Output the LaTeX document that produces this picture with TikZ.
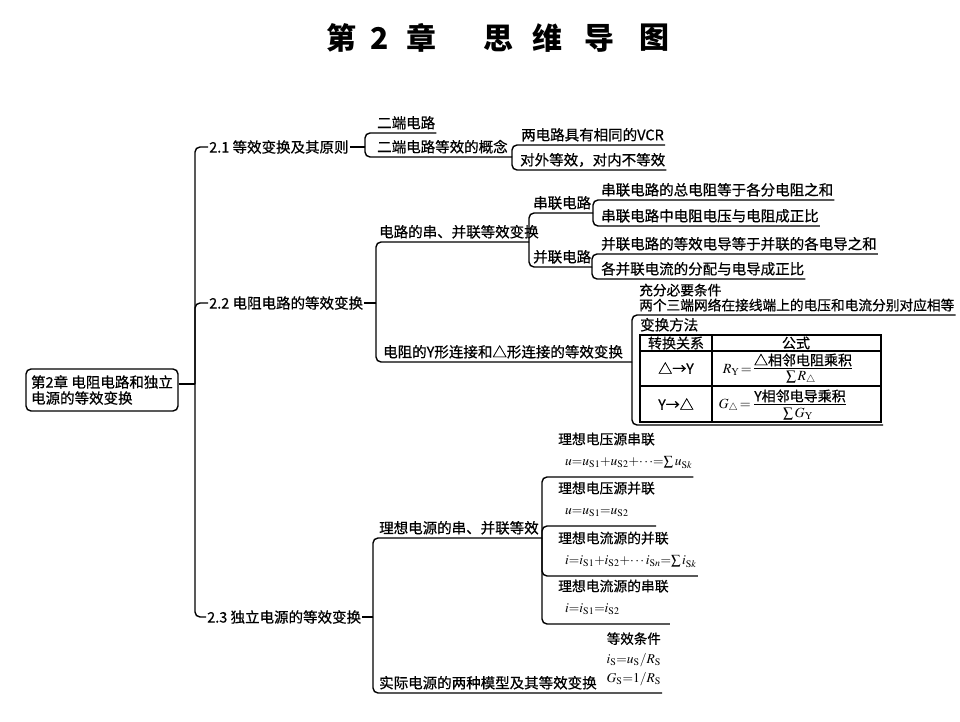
\documentclass[tikz,border=0pt]{standalone}
\usepackage{amsmath}
\usepackage{mathptmx}
\usepackage{fontspec}
\setmainfont{Noto Sans CJK SC}[UprightFeatures={FakeBold=0.6}]
\usepackage{tikz}
\newcommand{\eqtext}[1]{{\fontsize{13.5}{15}\selectfont\thickmuskip=0mu\medmuskip=0mu$#1$}}

\begin{document}
\begin{tikzpicture}[x=1pt, y=-1pt,
  link/.style={draw=black, line width=1.4pt, rounded corners=5pt},
  titlechar/.style={font=\fontsize{30}{32}\selectfont\bfseries, inner sep=0pt},
  rootbox/.style={draw, line width=1.4pt, rounded corners=5pt, align=left, minimum width=152pt, minimum height=42pt, inner xsep=4pt, inner ysep=4pt, font=\fontsize{14.5}{16}\selectfont},
  topic/.style={anchor=west, inner xsep=1pt, inner ysep=2pt, font=\fontsize{14.5}{17}\selectfont},
  leaf/.style={anchor=south west, inner xsep=1pt, inner ysep=4.5pt, text depth=0pt, align=left, font=\fontsize{14.5}{17}\selectfont},
  source/.style={leaf, inner ysep=11pt, font=\fontsize{13.8}{21.5}\selectfont},
  cond/.style={anchor=south east, align=right, inner xsep=1pt, inner ysep=10pt, text depth=0pt, font=\fontsize{13.5}{19.5}\selectfont},
  cell/.style={inner sep=0pt, font=\fontsize{14}{16}\selectfont},
  grid/.style={draw=black, line width=1.2pt},
  fracbar/.style={draw=black, line width=1pt}
]
  \useasboundingbox (0,0) rectangle (960,722);

  % Title
  \foreach \ch/\xx [count=\i] in {第/341, 2/380, 章/421, 思/498, 维/547, 导/599, 图/654}
    \node[titlechar] (t\i) at (\xx,38) {\ch};

  % Root and trunk
  \node[rootbox] (root) at (102,390) {第2章 电阻电路和独立\\电源的等效变换};
  \coordinate (trunk) at (195,384);
  \draw[link] (root.east |- trunk) -- (trunk);

  \node[topic] (s21) at (208,147) {2.1 等效变换及其原则};
  \node[topic] (s22) at (208,303) {2.2 电阻电路的等效变换};
  \node[topic] (s23) at (206,617) {2.3 独立电源的等效变换};
  \draw[link] (trunk) |- (s21.west);
  \draw[link] (trunk) |- (s22.west);
  \draw[link] (trunk) |- (s23.west);

  \coordinate (j21) at (365,147);
  \coordinate (j22) at (376,303);
  \coordinate (j23) at (373,617);
  \draw[link] (s21.east) -- (j21);
  \draw[link] (s22.east) -- (j22);
  \draw[link] (s23.east) -- (j23);

  % 2.1
  \node[leaf] (a1) at (376,133) {二端电路};
  \node[leaf] (a2) at (376,157) {二端电路等效的概念};
  \coordinate (ja2) at (512,157);
  \draw[link] (j21) |- (a1.south east);
  \draw[link] (j21) |- (ja2);

  \node[leaf] (b1) at (520,145) {两电路具有相同的VCR};
  \node[leaf] (b2) at (519,170) {对外等效，对内不等效};
  \draw[link] (ja2) |- (b1.south east);
  \draw[link] (ja2) |- (b2.south east);

  % 2.2
  \node[leaf] (c1) at (378,242) {电路的串、并联等效变换};
  \node[leaf] (c2) at (382,362) {电阻的Y形连接和△形连接的等效变换};
  \coordinate (jc1) at (529,242);
  \coordinate (jc2) at (632,362);
  \draw[link] (j22) |- (jc1);
  \draw[link] (j22) |- (jc2);

  \node[leaf] (d1) at (532,213) {串联电路};
  \node[leaf] (d2) at (532,267) {并联电路};
  \coordinate (jd1) at (593,213);
  \coordinate (jd2) at (592,267);
  \draw[link] (jc1) |- (jd1);
  \draw[link] (jc1) |- (jd2);

  \node[leaf] (e1) at (600,200) {串联电路的总电阻等于各分电阻之和};
  \node[leaf] (e2) at (600,226) {串联电路中电阻电压与电阻成正比};
  \node[leaf] (e3) at (600,254) {并联电路的等效电导等于并联的各电导之和};
  \node[leaf] (e4) at (600,279) {各并联电流的分配与电导成正比};
  \draw[link] (jd1) |- (e1.south east);
  \draw[link] (jd1) |- (e2.south east);
  \draw[link] (jd2) |- (e3.south east);
  \draw[link] (jd2) |- (e4.south east);

  \node[leaf, font=\fontsize{13.7}{15}\selectfont] (f1) at (638,315) {充分必要条件\\两个三端网络在接线端上的电压和电流分别对应相等};
  \node[leaf] (f2) at (639,335) {变换方法};
  \coordinate (f3) at (883,425);
  \draw[link] (jc2) |- (f1.south east);
  \draw[link] (jc2) |- (f3);

  % Table
  \draw[grid] (640,335) rectangle (881,422);
  \draw[grid] (640,351) -- (881,351);
  \draw[grid] (640,386) -- (881,386);
  \draw[grid] (712,335) -- (712,422);
  \node[cell] (k1) at (676,343) {转换关系};
  \node[cell] (k2) at (796,343) {公式};
  \node[cell] (k3) at (676,368) {△→Y};
  \node[cell] (k5) at (676,404) {Y→△};

  \node[cell, anchor=east] (k4) at (752,370) {$R_{\mathrm{Y}}\!=$};
  \node[cell, inner ysep=1.5pt] (k4n) at (803,360) {△相邻电阻乘积};
  \node[cell] (k4d) at (801,378) {$\sum R_{\triangle}$};
  \draw[fracbar] (k4n.south west) -- (k4n.south east);

  \node[cell, anchor=east] (k6) at (751,406) {$G_{\triangle}\!=$};
  \node[cell, inner ysep=1.5pt] (k6n) at (800,396) {Y相邻电导乘积};
  \node[cell] (k6d) at (798,414) {$\sum G_{\mathrm{Y}}$};
  \draw[fracbar] (k6n.south west) -- (k6n.south east);

  % 2.3
  \node[leaf] (g1) at (378,538) {理想电源的串、并联等效};
  \node[leaf] (g2) at (378,693) {实际电源的两种模型及其等效变换};
  \node[cond] (g3) at (662,693) {等效条件\\\eqtext{i_{\mathrm{S}}=u_{\mathrm{S}}/R_{\mathrm{S}}}\\\eqtext{G_{\mathrm{S}}=1/R_{\mathrm{S}}}};
  \coordinate (jg1) at (542,538);
  \draw[link] (j23) |- (jg1);
  \draw[link] (j23) |- (g3.south east);

  \node[source] (h1) at (557,477) {理想电压源串联\\\hspace*{7pt}\eqtext{u=u_{\mathrm{S}1}+u_{\mathrm{S}2}+\cdots=\sum u_{\mathrm{S}k}}};
  \node[source] (h2) at (557,526) {理想电压源并联\\\hspace*{7pt}\eqtext{u=u_{\mathrm{S}1}=u_{\mathrm{S}2}}};
  \node[source] (h3) at (557,576) {理想电流源的并联\\\hspace*{7pt}\eqtext{i=i_{\mathrm{S}1}+i_{\mathrm{S}2}+\cdots i_{\mathrm{S}n}=\sum i_{\mathrm{S}k}}};
  \node[source] (h4) at (557,624) {理想电流源的串联\\\hspace*{7pt}\eqtext{i=i_{\mathrm{S}1}=i_{\mathrm{S}2}}};
  \draw[link] (jg1) |- (h1.south east);
  \draw[link] (jg1) |- (h2.south east);
  \draw[link] (jg1) |- (h3.south east);
  \draw[link] (jg1) |- (h4.south east);
\end{tikzpicture}
\end{document}
